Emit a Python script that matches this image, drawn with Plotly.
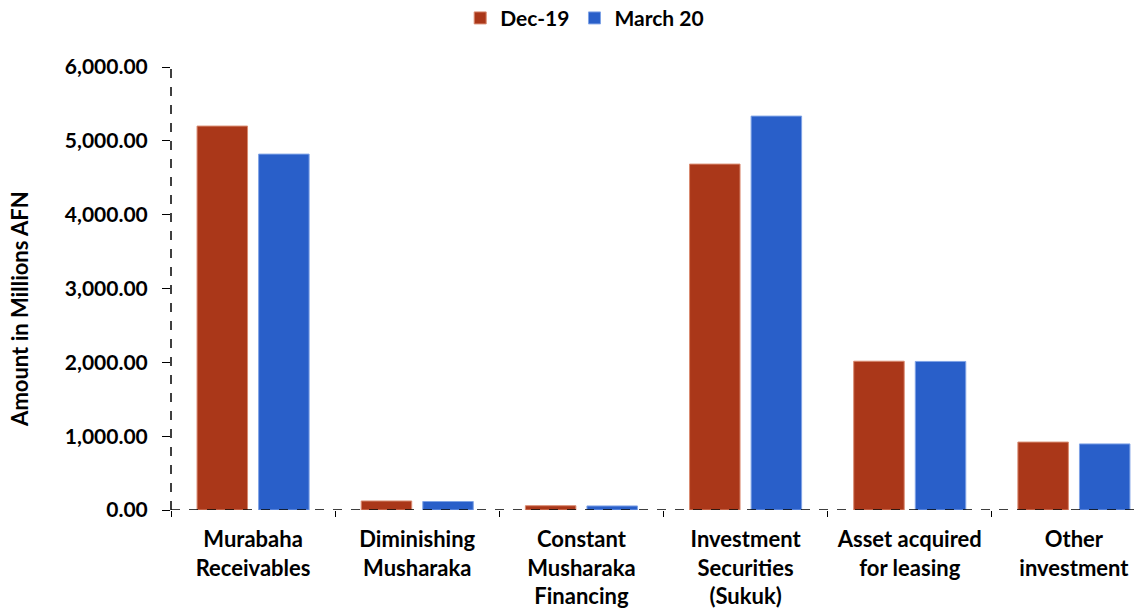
import plotly.graph_objects as go

categories = ["Murabaha<br>Receivables", "Diminishing<br>Musharaka", "Constant<br>Musharaka<br>Financing",
              "Investment<br>Securities<br>(Sukuk)", "Asset acquired<br>for leasing", "Other<br>investment"]
dec19 = [5200, 122, 58, 4685, 2015, 920]
mar20 = [4820, 115, 55, 5335, 2012, 895]

font_family = "Lato, 'Open Sans', sans-serif"

fig = go.Figure()
fig.add_trace(go.Bar(x=categories, y=dec19, name="Dec-19",
                     marker=dict(color="#AA3719", line=dict(color="#D98A70", width=1))))
fig.add_trace(go.Bar(x=categories, y=mar20, name="March 20",
                     marker=dict(color="#295FC9", line=dict(color="#7FA3E6", width=1))))

# dashed axis lines (Excel style)
fig.add_shape(type="line", xref="paper", yref="y", x0=0, x1=1, y0=0, y1=0,
              line=dict(color="black", width=1.5, dash="dash"))
fig.add_shape(type="line", xref="paper", yref="y", x0=0, x1=0, y0=0, y1=6000,
              line=dict(color="black", width=1.5, dash="dash"))

# y-axis title as annotation (sits a bit below the plot's middle in the original)
fig.add_annotation(text="Amount in Millions AFN", textangle=-90, showarrow=False,
                   xref="paper", yref="paper", x=0, y=0.454, xanchor="center", yanchor="middle",
                   xshift=-151, font=dict(size=22, weight="bold", family=font_family))

fig.update_layout(
    width=1148, height=612,
    margin=dict(l=163, r=0, t=59, b=110, autoexpand=False),
    paper_bgcolor="white", plot_bgcolor="white",
    barmode="group", bargap=0.25, bargroupgap=0.18,
    font=dict(family=font_family, size=22, color="black"),
    legend=dict(orientation="h", x=0.42, xanchor="center",
                y=1.11, yanchor="middle",
                font=dict(size=21, family=font_family, weight="bold"), itemwidth=30),
    xaxis=dict(showline=False, showgrid=False, ticks="outside", tickson="boundaries",
               ticklen=6, tickcolor="black", tickfont=dict(size=22, weight="bold"),
               tickangle=0, ticklabelstandoff=14, automargin=False),
    yaxis=dict(range=[0, 6000], dtick=1000, tickformat=",.2f", showgrid=False,
               showline=False, zeroline=False, ticks="outside", ticklen=8, tickcolor="black",
               tickfont=dict(size=21, weight="bold"), ticklabelstandoff=10,
               automargin=False),
)

fig.write_html("out.html")
